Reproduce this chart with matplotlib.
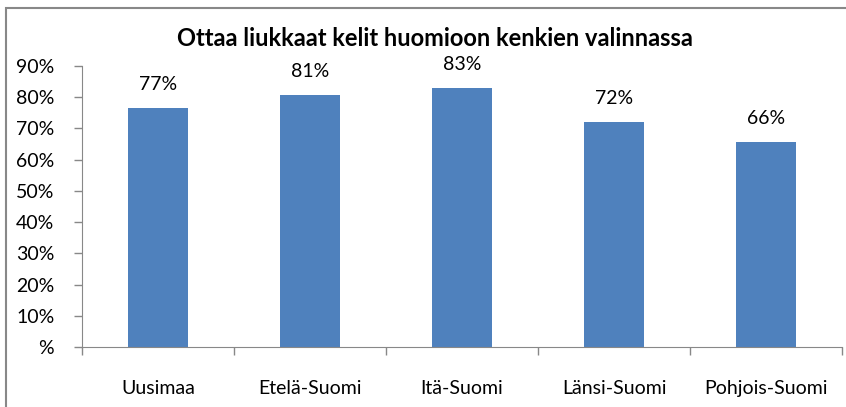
import matplotlib.pyplot as plt
from matplotlib.patches import Rectangle
from matplotlib.ticker import FixedLocator

regions = ['Uusimaa', 'Etelä-Suomi', 'Itä-Suomi', 'Länsi-Suomi', 'Pohjois-Suomi']
values = [76.6, 80.8, 83.0, 72.1, 65.7]
labels = ['77%', '81%', '83%', '72%', '66%']
yticks = [0, 10, 20, 30, 40, 50, 60, 70, 80, 90]
ytick_labels = ['%', '10%', '20%', '30%', '40%', '50%', '60%', '70%', '80%', '90%']

plt.rcParams['font.family'] = ['Lato', 'DejaVu Sans']

fig = plt.figure(figsize=(8.46, 4.07), dpi=100)
ax = fig.add_axes([82/846, 1 - 347/407, 760/846, 281/407])

x = range(len(regions))
ax.bar(x, values, width=0.4, color='#4F81BD')
for i, v in enumerate(values):
    ax.text(i, v + 7.5, labels[i], ha='center', va='center', fontsize=14)

ax.set_xlim(-0.5, len(regions) - 0.5)
ax.set_ylim(0, 90)
ax.set_yticks(yticks)
ax.set_yticklabels(ytick_labels, fontsize=14)
ax.set_xticks(list(x))
ax.set_xticklabels(regions, fontsize=14)
ax.tick_params(axis='x', length=0, pad=24)
ax.xaxis.set_minor_locator(FixedLocator([i - 0.5 for i in range(len(regions) + 1)]))
ax.tick_params(axis='x', which='minor', length=6, color='#888888', width=1)
ax.tick_params(axis='y', length=6, color='#888888', width=1, pad=14)

for s in ['top', 'right']:
    ax.spines[s].set_visible(False)
for s in ['left', 'bottom']:
    ax.spines[s].set_color('#888888')

fig.text(435/846, 1 - 38/407, 'Ottaa liukkaat kelit huomioon kenkien valinnassa',
         ha='center', va='center', fontsize=17, fontweight='bold')

# outer chart border
fig.patches.append(Rectangle((6/846, -0.01), 1.0, 1 - 8/407 + 0.01, transform=fig.transFigure,
                             fill=False, edgecolor='#888888', linewidth=1.5))

fig.savefig('out.png', dpi=100)
